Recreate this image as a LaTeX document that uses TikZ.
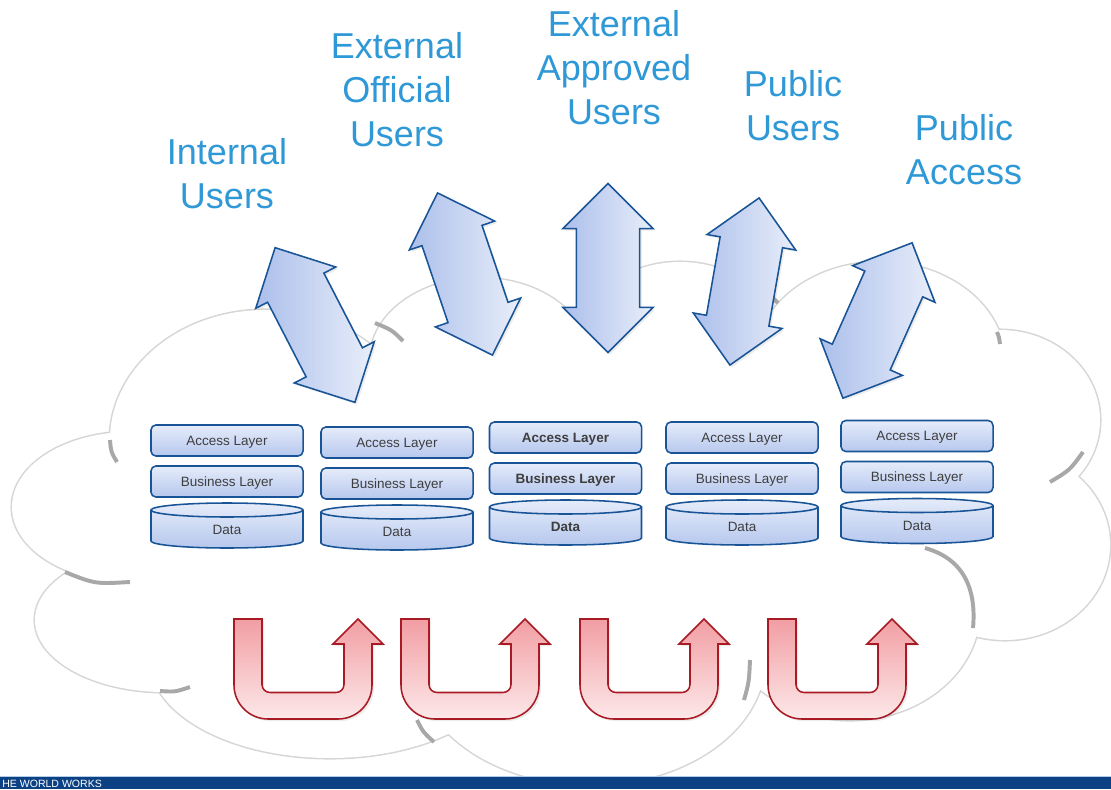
\documentclass[tikz,border=0pt]{standalone}
\usepackage{fontspec}
\setmainfont{Liberation Sans}
\usetikzlibrary{arrows.meta}
\usetikzlibrary{shapes.arrows}
\usetikzlibrary{shadows}
\usepackage{xcolor}

\definecolor{labelblue}{RGB}{47,152,214}
\definecolor{edgeblue}{RGB}{24,84,150}
\definecolor{layertop}{RGB}{229,236,250}
\definecolor{layerbottom}{RGB}{183,200,238}
\definecolor{arrowdark}{RGB}{172,191,235}
\definecolor{arrowlight}{RGB}{232,238,250}
\definecolor{turnedge}{RGB}{168,26,36}
\definecolor{turntop}{RGB}{241,158,163}
\definecolor{turnbottom}{RGB}{253,232,233}
\definecolor{cloudedge}{RGB}{214,214,214}
\definecolor{foldgray}{RGB}{168,168,168}
\definecolor{barblue}{RGB}{12,66,132}
\definecolor{barline}{RGB}{178,206,234}
\definecolor{textgray}{RGB}{62,62,62}

\newcommand\layerfont{\fontsize{9.6pt}{11.5pt}\selectfont}

\begin{document}
\begin{tikzpicture}[x=0.025cm,y=-0.025cm,
  usergroup/.style={text=labelblue,align=center,inner sep=0pt,
    font=\fontsize{25.6pt}{31.3pt}\selectfont},
  flow/.style={shape=double arrow,draw=edgeblue,line width=1.1pt,
    left color=arrowdark,right color=arrowlight,
    inner xsep=0pt,inner ysep=0.575cm,minimum width=2.25cm,
    drop shadow={opacity=0.15,shadow xshift=1.5pt,shadow yshift=-1.5pt}},
  layerbox/.style={shape=rectangle,rounded corners=3.5pt,draw=edgeblue,line width=1.1pt,
    top color=layertop,bottom color=layerbottom,text=textgray,text depth=0pt,
    minimum width=3.8cm,minimum height=0.775cm,inner sep=0pt},
  datadisk/.style={draw=edgeblue,line width=1.1pt,top color=layertop,bottom color=layerbottom},
  turnarrow/.style={draw=turnedge,line width=1.1pt,top color=turntop,bottom color=turnbottom,
    drop shadow={opacity=0.15,shadow xshift=1.5pt,shadow yshift=-1.5pt}},
  fold/.style={draw=foldgray,line width=2.8pt},
  pics/uturn/.style={code={
    \path[turnarrow] (0,0) -- (28,0) -- (28,65.5) arc[start angle=180,end angle=90,radius=8]
      -- (102,73.5) arc[start angle=90,end angle=0,radius=8] -- (110,25) -- (99,25)
      -- (124,0) -- (149,25) -- (138,25) -- (138,66) arc[start angle=0,end angle=90,radius=34]
      -- (34,100) arc[start angle=90,end angle=180,radius=34] -- cycle;
  }}]
  \useasboundingbox (0,0) rectangle (1111,789);
  %\draw[help lines,step=50] (0,0) grid (1111,789); % Only for Development

  % cloud: outline first, then white fill on top
  \foreach \lx/\ly/\rx/\ry in {265/440/155/130,480/360/110/82,680/342/100/80,
      880/362/125/100,1000/420/100/90,1005/545/105/95,850/610/130/110,
      590/660/175/125,330/660/180/98,165/620/130/72,130/507/118/75}
    \draw[draw=cloudedge,line width=2.2pt] (\lx,\ly) ellipse[x radius=\rx,y radius=\ry];
  \foreach \lx/\ly/\rx/\ry in {265/440/155/130,480/360/110/82,680/342/100/80,
      880/362/125/100,1000/420/100/90,1005/545/105/95,850/610/130/110,
      590/660/175/125,330/660/180/98,165/620/130/72,130/507/118/75,560/510/400/160}
    \fill[white] (\lx,\ly) ellipse[x radius=\rx,y radius=\ry];

  \draw[fold] (110,440) .. controls (111,452) .. (117,462);
  \draw[fold] (65,572) .. controls (95,584) .. (130,582);
  \draw[fold] (160,691) .. controls (175,692) .. (190,687);
  \draw[fold] (417,720) .. controls (423,732) .. (434,742);
  \draw[fold] (375,323) .. controls (392,330) .. (403,341);
  \draw[fold] (766,293) .. controls (771,296) .. (778,303);
  \draw[fold] (997,332) .. controls (999,337) .. (1000,344);
  \draw[fold] (1050,482) .. controls (1070,470) .. (1083,452);
  \draw[fold] (925,548) .. controls (968,560) and (976,595) .. (973,628);
  \draw[fold] (750,660) .. controls (749,682) .. (744,700);

  % user groups
  \node[usergroup] (internal) at (227,174) {Internal\\Users};
  \node[usergroup] (official) at (397,90) {External\\Official\\Users};
  \node[usergroup] (approved) at (614,68) {External\\Approved\\Users};
  \node[usergroup] (publicusers) at (793,106) {Public\\Users};
  \node[usergroup] (publicaccess) at (964,150) {Public\\Access};

  % two-way access arrows
  \node[flow,rotate=117.3,minimum height=4.35cm] (link1) at (315,325) {};
  \node[flow,rotate=108.7,minimum height=4.28cm] (link2) at (465,274) {};
  \node[flow,rotate=90,minimum height=4.22cm] (link3) at (608,268) {};
  \node[flow,rotate=80.1,minimum height=4.24cm] (link4) at (744.5,281.5) {};
  \node[flow,rotate=66,minimum height=4.25cm] (link5) at (877.5,320.5) {};

  % layer stacks
  \foreach \cx/\cy/\wt [count=\i] in {227/440.5/\mdseries,397/442.5/\mdseries,
      565.5/437.5/\bfseries,742/437.5/\mdseries,917/436/\mdseries}{
    \node[layerbox,font=\layerfont\wt] (access\i) at (\cx,\cy) {Access Layer};
    \node[layerbox,font=\layerfont\wt] (business\i) at (\cx,\cy+41) {Business Layer};
    \path[datadisk] (\cx-76,\cy+69.5) -- (\cx-76,\cy+100.5)
      arc[start angle=180,end angle=0,x radius=76,y radius=7] -- (\cx+76,\cy+69.5)
      arc[start angle=0,end angle=-180,x radius=76,y radius=7] -- cycle;
    \draw[edgeblue,line width=1.1pt] (\cx-76,\cy+69.5)
      arc[start angle=180,end angle=0,x radius=76,y radius=7];
    \node[font=\layerfont\wt,text=textgray,inner sep=0pt] (data\i) at (\cx,\cy+89.5) {Data};
  }

  % exchange loops
  \pic (turn1) at (234,619) {uturn};
  \pic (turn2) at (401,619) {uturn};
  \pic (turn3) at (580,619) {uturn};
  \pic (turn4) at (768,619) {uturn};

  % footer bar
  \fill[barblue] (0,777) rectangle (1111,789);
  \draw[barline,line width=0.6pt] (0,776.6) -- (1111,776.6);
  \node[anchor=base west,text=white,inner sep=0pt,
    font=\fontsize{7.5pt}{9pt}\selectfont] (motto) at (2,787.5) {HE WORLD WORKS};
\end{tikzpicture}
\end{document}
